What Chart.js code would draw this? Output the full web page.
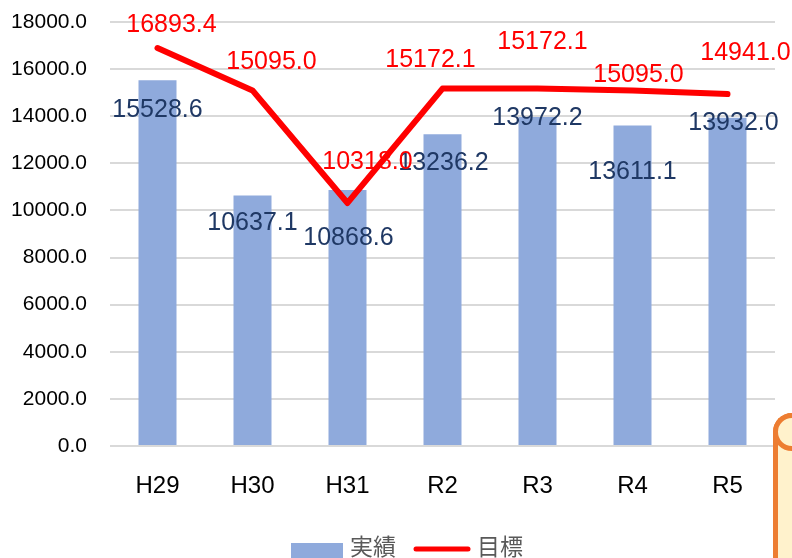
<!DOCTYPE html>
<html>
<head>
<meta charset="utf-8">
<script src="https://cdn.jsdelivr.net/npm/chart.js@4.4.1/dist/chart.umd.min.js"></script>
<style>
  html, body { margin: 0; padding: 0; background: #fff; overflow: hidden; }
  #wrap { position: relative; width: 792px; height: 558px; overflow: hidden; }
  #grafico { position: absolute; left: 0; top: 0; }
  /* decoracion naranja (pergamino) en la esquina */
  .scroll-body { position: absolute; left: 773px; top: 413px; width: 60px; height: 200px;
    box-sizing: border-box; border-left: 5px solid #ED7D31; border-top: 5px solid #ED7D31;
    border-top-left-radius: 19px; background: #FFF2CC; }
  .scroll-curl { position: absolute; left: 773px; top: 413px; width: 38px; height: 38px;
    box-sizing: border-box; border: 5px solid #ED7D31; border-radius: 50%; background: #FFF2CC; }
</style>
</head>
<body>
<div id="wrap">
  <canvas id="grafico" width="792" height="558"></canvas>
  <div class="scroll-body"></div>
  <div class="scroll-curl"></div>
</div>
<script>
// datos
const categorias = ["H29", "H30", "H31", "R2", "R3", "R4", "R5"];
const jisseki = [15528.6, 10637.1, 10868.6, 13236.2, 13972.2, 13611.1, 13932.0];
const mokuhyo = [16893.4, 15095.0, 10318.0, 15172.1, 15172.1, 15095.0, 14941.0];
const yMin = 0, yMax = 18000, yPaso = 2000;

// desplazamiento de etiquetas (px) respecto al punto
const offBarra = [[0, 30], [0, 28], [1, 48], [1, 29], [0, 1], [0, 47], [6, 5]];
const offLinea = [[14, -23], [19, -28], [20, -41], [-12, -29], [5, -47], [6, -15], [18, -41]];

const FUENTE = "'Liberation Sans', Arial, 'Noto Sans CJK JP', sans-serif";

const etiquetas = {
    id: "etiquetas",
    afterDatasetsDraw(chart) {
        const ctx = chart.ctx;
        ctx.save();
        ctx.font = "25px " + FUENTE;
        ctx.textAlign = "center";
        ctx.textBaseline = "middle";
        chart.data.datasets.forEach(function (ds, i) {
            const meta = chart.getDatasetMeta(i);
            const off = ds.type === "line" ? offLinea : offBarra;
            ctx.fillStyle = ds.type === "line" ? "#FF0000" : "#1F3864";
            meta.data.forEach(function (el, j) {
                ctx.fillText(ds.data[j].toFixed(1), el.x + off[j][0], el.y + off[j][1]);
            });
        });
        ctx.restore();
    },
    afterDraw(chart) {
        // leyenda
        const ctx = chart.ctx;
        const y = 549;
        ctx.save();
        ctx.fillStyle = "#8FAADC";
        ctx.fillRect(291, 543, 52, 15);
        ctx.strokeStyle = "#FF0000";
        ctx.lineWidth = 5;
        ctx.lineCap = "round";
        ctx.beginPath();
        ctx.moveTo(416, y);
        ctx.lineTo(468, y);
        ctx.stroke();
        ctx.font = "23px " + FUENTE;
        ctx.fillStyle = "#595959";
        ctx.textBaseline = "middle";
        ctx.fillText(chart.data.datasets[0].label, 350, y);
        ctx.fillText(chart.data.datasets[1].label, 477, y);
        ctx.restore();
    }
};

const ctx = document.getElementById("grafico").getContext("2d");
const miGrafico = new Chart(ctx, {
    type: "bar",
    data: {
        labels: categorias,
        datasets: [
            {
                label: "実績",
                data: jisseki,
                backgroundColor: "#8FAADC",
                categoryPercentage: 1.0,
                barPercentage: 0.4,
                order: 2,
            },
            {
                type: "line",
                label: "目標",
                data: mokuhyo,
                borderColor: "#FF0000",
                borderWidth: 6,
                borderCapStyle: "round",
                borderJoinStyle: "round",
                pointRadius: 0,
                tension: 0,
                order: 1,
            },
        ],
    },
    options: {
        responsive: false,
        animation: false,
        devicePixelRatio: 1,
        layout: { padding: { left: 0, right: 17, top: 22, bottom: 52 } },
        plugins: {
            legend: { display: false },
            tooltip: { enabled: false },
        },
        scales: {
            x: {
                grid: { display: false },
                border: { display: false },
                ticks: { font: { family: FUENTE, size: 24 }, color: "#000", padding: 18 },
                afterFit: function (s) { s.height = 60; },
            },
            y: {
                min: yMin,
                max: yMax,
                ticks: {
                    stepSize: yPaso,
                    font: { family: FUENTE, size: 21 },
                    color: "#000",
                    padding: 23,
                    callback: function (v) { return Number(v).toFixed(1); },
                },
                grid: { color: "#D9D9D9", lineWidth: 2, drawTicks: false },
                border: { display: false },
                afterFit: function (s) {
                    s.width = 110;
                    s.paddingTop = 0;
                    s.paddingBottom = 0;
                },
            },
        },
    },
    plugins: [etiquetas],
});
</script>
</body>
</html>
